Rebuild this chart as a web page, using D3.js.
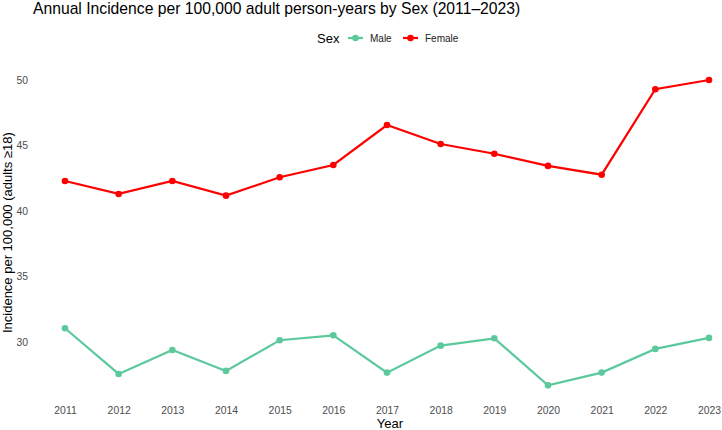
<!DOCTYPE html>
<html>
<head>
<meta charset="utf-8">
<script src="https://cdn.jsdelivr.net/npm/d3@7"></script>
<style>
  body { margin: 0; background: #fff; }
  text { font-family: "Liberation Sans", Arial, sans-serif; }
</style>
</head>
<body>
<div id="viz"></div>
<script>
// data
let years = [2011, 2012, 2013, 2014, 2015, 2016, 2017, 2018, 2019, 2020, 2021, 2022, 2023];
let male = [31.05, 27.56, 29.39, 27.79, 30.13, 30.51, 27.66, 29.72, 30.28, 26.69, 27.66, 29.47, 30.31];
let female = [42.29, 41.30, 42.29, 41.17, 42.57, 43.51, 46.56, 45.11, 44.37, 43.44, 42.77, 49.29, 50.0];
let yTicks = [30, 35, 40, 45, 50];
let seriesNames = ["Male", "Female"];

let width = 722, height = 430;
let colors = {Male: "#5cc99c", Female: "#ff0000"};

let svg = d3.select("#viz")
    .append("svg")
    .attr("width", width)
    .attr("height", height);

// ggplot style expansion: 5% on y, 0.6 on the x
let allVals = male.concat(female);
let yMin = d3.min(allVals), yMax = d3.max(allVals);
let pad = (yMax - yMin) * 0.05;

let x = d3.scaleLinear()
    .domain([d3.min(years) - 0.6, d3.max(years) + 0.6])
    .range([32.8, 741.2]);

let y = d3.scaleLinear()
    .domain([yMin - pad, yMax + pad])
    .range([400.6, 64.7]);

// axes (no lines, only labels)
let xAxis = svg.append("g")
    .attr("transform", "translate(0,404)")
    .call(d3.axisBottom(x).tickValues(years).tickFormat(d3.format("d")).tickSize(0).tickPadding(3));
xAxis.select(".domain").remove();
xAxis.selectAll("text")
    .attr("fill", "#4d4d4d")
    .style("font-size", "10.4px");

let yAxis = svg.append("g")
    .attr("transform", "translate(28,0)")
    .call(d3.axisLeft(y).tickValues(yTicks).tickSize(0).tickPadding(0));
yAxis.select(".domain").remove();
yAxis.selectAll("text")
    .attr("fill", "#4d4d4d")
    .style("font-size", "10.4px");

// lines + points
let line = d3.line()
    .x(d => x(d[0]))
    .y(d => y(d[1]));

let series = [
    {name: "Male", values: years.map((yr, i) => [yr, male[i]])},
    {name: "Female", values: years.map((yr, i) => [yr, female[i]])}
];

series.forEach(s => {
    svg.append("path")
        .datum(s.values)
        .attr("d", line)
        .attr("fill", "none")
        .attr("stroke", colors[s.name])
        .attr("stroke-width", 2.2);

    svg.selectAll(".pt-" + s.name)
        .data(s.values)
        .enter()
        .append("circle")
        .attr("class", "pt-" + s.name)
        .attr("cx", d => x(d[0]))
        .attr("cy", d => y(d[1]))
        .attr("r", 3.3)
        .attr("fill", colors[s.name]);
});

// title
svg.append("text")
    .attr("x", 33)
    .attr("y", 14)
    .style("font-size", "15.7px")
    .attr("fill", "#000")
    .text("Annual Incidence per 100,000 adult person-years by Sex (2011\u20132023)");

// axis titles
svg.append("text")
    .attr("x", 390)
    .attr("y", 428)
    .attr("text-anchor", "middle")
    .style("font-size", "13px")
    .text("Year");

svg.append("text")
    .attr("transform", "translate(12," + ((64.7 + 400.6) / 2) + ") rotate(-90)")
    .attr("text-anchor", "middle")
    .style("font-size", "13px")
    .text("Incidence per 100,000 (adults \u226518)");

// legend
let legend = svg.append("g").attr("transform", "translate(317,38)");
legend.append("text")
    .attr("x", 0)
    .attr("y", 4.5)
    .style("font-size", "13px")
    .text("Sex");

let keyX = [31, 86];
seriesNames.forEach((name, i) => {
    let g = legend.append("g").attr("transform", "translate(" + keyX[i] + ",0)");
    g.append("line")
        .attr("x1", 0).attr("x2", 15)
        .attr("y1", 0).attr("y2", 0)
        .attr("stroke", colors[name])
        .attr("stroke-width", 2.2);
    g.append("circle")
        .attr("cx", 7.5).attr("cy", 0)
        .attr("r", 3.3)
        .attr("fill", colors[name]);
    g.append("text")
        .attr("x", 22)
        .attr("y", 3.6)
        .style("font-size", "10px")
        .attr("fill", "#222")
        .text(name);
});
</script>
</body>
</html>
